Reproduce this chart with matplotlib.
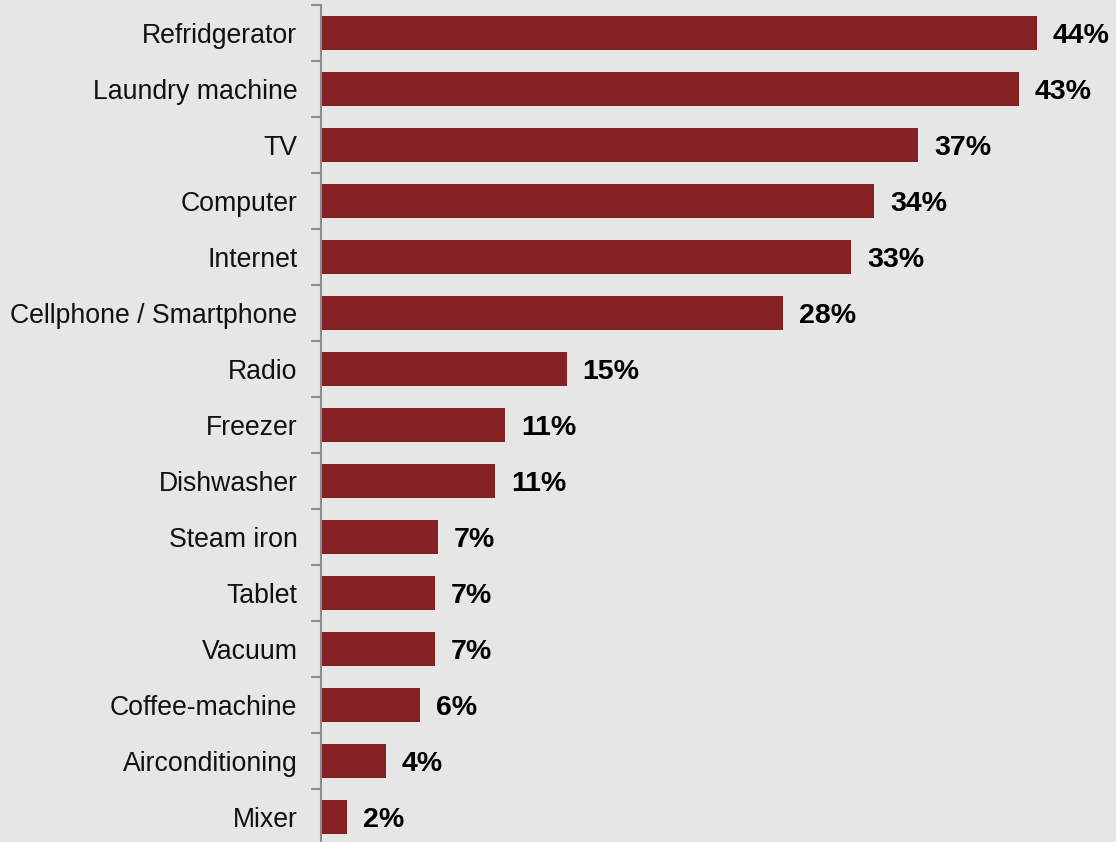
import matplotlib
matplotlib.use("Agg")
import matplotlib.pyplot as plt
from matplotlib.ticker import FixedLocator

categories = [
    "Refridgerator", "Laundry machine", "TV", "Computer", "Internet",
    "Cellphone / Smartphone", "Radio", "Freezer", "Dishwasher", "Steam iron",
    "Tablet", "Vacuum", "Coffee-machine", "Airconditioning", "Mixer",
]
shares = [44.0, 42.9, 36.7, 34.0, 32.6, 28.4, 15.1, 11.3, 10.7, 7.2, 7.0, 7.0, 6.1, 4.0, 1.6]

BG = "#e6e6e6"
BAR = "#862123"
AXIS = "#8c8c8c"

plt.rcParams["font.family"] = ["Liberation Sans", "DejaVu Sans"]

W, H = 1116, 842
fig = plt.figure(figsize=(W / 100, H / 100), dpi=100, facecolor=BG)
ax = fig.add_axes([321 / W, -3 / H, (W - 321) / W, 840 / H])
ax.set_facecolor(BG)

y = list(range(len(categories)))
ax.barh(y, shares, height=0.6, color=BAR, zorder=2)

for yi, v in zip(y, shares):
    ax.annotate(f"{v:.0f}%", (v, yi), xytext=(11.5, 0), textcoords="offset points",
                va="center_baseline", ha="left", fontsize=20.5, fontweight="bold",
                color="black")

ax.set_ylim(len(categories) - 0.5, -0.5)
ax.set_xlim(0, (W - 321) / 16.27)
ax.set_yticks(y)
ax.set_yticklabels(categories, fontsize=19.2, color="#111111")
ax.tick_params(axis="y", which="major", length=0, pad=17)
ax.yaxis.set_minor_locator(FixedLocator([i - 0.5 for i in range(len(categories) + 1)]))
ax.tick_params(axis="y", which="minor", length=7, width=1.5, color=AXIS, direction="out")
ax.set_xticks([])

for side in ("top", "right", "bottom"):
    ax.spines[side].set_visible(False)
ax.spines["left"].set_color(AXIS)
ax.spines["left"].set_linewidth(1.5)

fig.savefig("out.png", dpi=100, facecolor=BG)
